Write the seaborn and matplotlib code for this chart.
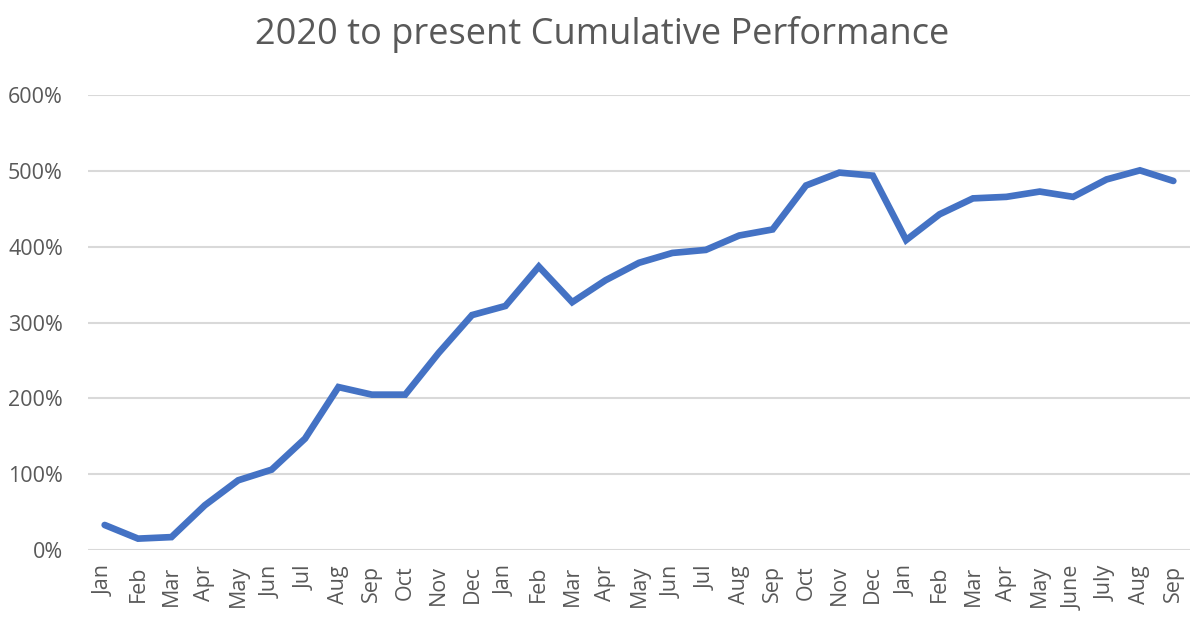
import numpy as np
import pandas as pd
import matplotlib
matplotlib.use("Agg")
import matplotlib.pyplot as plt
import seaborn as sns
from matplotlib.ticker import PercentFormatter

# --- data ---
months = ["Jan", "Feb", "Mar", "Apr", "May", "Jun", "Jul", "Aug", "Sep", "Oct", "Nov", "Dec",
          "Jan", "Feb", "Mar", "Apr", "May", "Jun", "Jul", "Aug", "Sep", "Oct", "Nov", "Dec",
          "Jan", "Feb", "Mar", "Apr", "May", "June", "July", "Aug", "Sep"]
performance = [33, 15, 17, 59, 92, 106, 147, 215, 205, 205, 260, 310,
               322, 374, 327, 356, 379, 392, 396, 415, 423, 481, 498, 494,
               409, 443, 464, 466, 473, 466, 489, 501, 487]
yticks = [0, 100, 200, 300, 400, 500, 600]

df = pd.DataFrame({"pos": np.arange(len(months)), "month": months, "perf": performance})

sns.set_theme(style="white")
plt.rcParams['font.family'] = ['Open Sans', 'DejaVu Sans']

grey_text = "#595959"
fig = plt.figure(figsize=(12, 6.3), dpi=100)
ax = fig.add_axes([0.0733, 0.127, 0.9184, 0.7217])

sns.lineplot(data=df, x="pos", y="perf", ax=ax, color="#4472C4", linewidth=4.8,
             solid_joinstyle="miter", zorder=3)

ax.set_xlim(-0.5, len(months) - 0.5)
ax.set_ylim(0, 600)
ax.set_yticks(yticks)
ax.yaxis.set_major_formatter(PercentFormatter(decimals=0))
ax.set_xticks(df["pos"])
ax.set_xticklabels(months, rotation=90, va="top", ha="center")

ax.grid(axis="y", color="#D9D9D9", linewidth=1.5)
ax.grid(axis="x", visible=False)
for s in ax.spines.values():
    s.set_visible(False)
ax.tick_params(axis="y", length=0, pad=18, labelsize=15.5, labelcolor=grey_text)
ax.tick_params(axis="x", length=0, pad=11, labelsize=15.5, labelcolor=grey_text)
ax.set_xlabel("")
ax.set_ylabel("")

fig.text(0.502, 0.945, "2020 to present Cumulative Performance", ha="center", va="center",
         fontsize=26, color=grey_text)

fig.savefig("out.png", dpi=100)
